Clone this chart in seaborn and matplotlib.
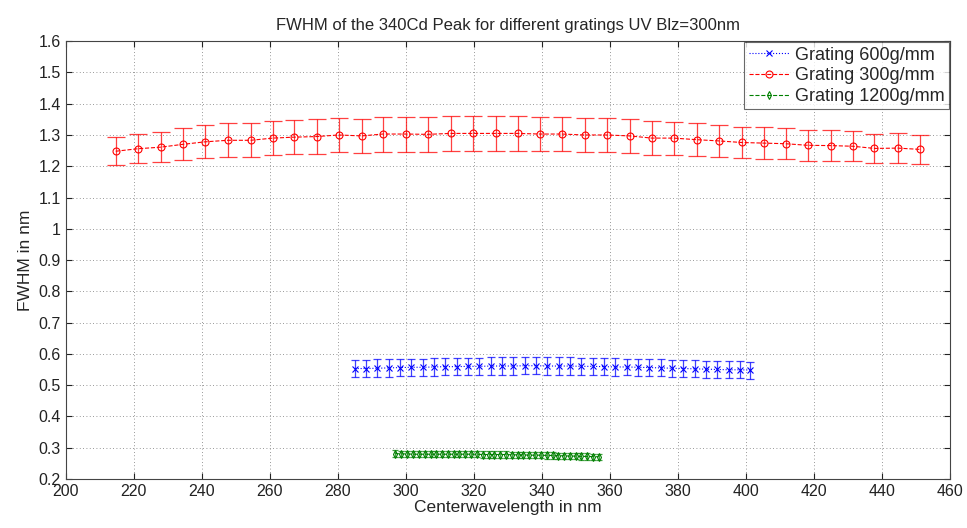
import numpy as np
import pandas as pd
import seaborn as sns
import matplotlib.pyplot as plt
from matplotlib.ticker import FormatStrFormatter, MultipleLocator

# Grating 600g/mm
x_600 = [285.0, 288.3, 291.7, 295.0, 298.3, 301.7, 305.0, 308.3, 311.7, 315.0, 318.3, 321.7,
         325.0, 328.3, 331.7, 335.0, 338.3, 341.7, 345.0, 348.3, 351.7, 355.0, 358.3, 361.7,
         365.0, 368.3, 371.7, 375.0, 378.3, 381.7, 385.0, 388.3, 391.7, 395.0, 398.3, 401.3]
y_600 = [0.553, 0.553, 0.554, 0.555, 0.556, 0.557, 0.557, 0.558, 0.559, 0.559, 0.560, 0.560,
         0.561, 0.561, 0.561, 0.562, 0.562, 0.561, 0.561, 0.561, 0.560, 0.560, 0.559, 0.558,
         0.558, 0.557, 0.556, 0.555, 0.554, 0.553, 0.552, 0.551, 0.550, 0.549, 0.549, 0.548]
e_600 = [0.028, 0.028, 0.028, 0.028, 0.028, 0.028, 0.028, 0.028, 0.028, 0.028, 0.028, 0.028,
         0.028, 0.028, 0.028, 0.028, 0.028, 0.028, 0.028, 0.028, 0.028, 0.028, 0.028, 0.028,
         0.027, 0.027, 0.027, 0.027, 0.027, 0.027, 0.027, 0.027, 0.027, 0.027, 0.027, 0.027]

# Grating 300g/mm
x_300 = [214.7, 221.2, 227.9, 234.4, 240.9, 247.6, 254.4, 260.9, 267.1, 273.8, 280.3, 287.1,
         293.2, 300.0, 306.5, 313.2, 319.7, 326.5, 332.9, 339.4, 345.9, 352.6, 359.1, 365.9,
         372.4, 378.8, 385.6, 392.1, 398.8, 405.3, 411.8, 418.2, 425.0, 431.5, 437.9, 444.7, 451.2]
y_300 = [1.248, 1.256, 1.261, 1.270, 1.278, 1.283, 1.283, 1.290, 1.293, 1.295, 1.300, 1.297,
         1.303, 1.303, 1.302, 1.305, 1.305, 1.305, 1.305, 1.303, 1.303, 1.300, 1.300, 1.297,
         1.290, 1.290, 1.285, 1.281, 1.276, 1.274, 1.272, 1.267, 1.266, 1.264, 1.257, 1.258, 1.254]
e_300 = [0.045, 0.047, 0.049, 0.051, 0.053, 0.054, 0.054, 0.055, 0.055, 0.055, 0.055, 0.055,
         0.056, 0.056, 0.056, 0.056, 0.056, 0.056, 0.056, 0.055, 0.055, 0.055, 0.055, 0.054,
         0.054, 0.053, 0.053, 0.052, 0.051, 0.051, 0.050, 0.049, 0.049, 0.048, 0.047, 0.047, 0.047]

# Grating 1200g/mm
x_1200 = [297.0, 298.7, 300.4, 302.1, 303.8, 305.6, 307.3, 309.0, 310.7, 312.4, 314.1, 315.8,
          317.5, 319.2, 320.9, 322.7, 324.4, 326.1, 327.8, 329.5, 331.2, 332.9, 334.6, 336.3,
          338.0, 339.8, 341.5, 343.2, 344.9, 346.6, 348.3, 350.0, 351.7, 353.4, 355.1, 356.8]
y_1200 = [0.281, 0.280, 0.280, 0.279, 0.279, 0.279, 0.279, 0.279, 0.279, 0.279, 0.279, 0.279,
          0.279, 0.279, 0.279, 0.278, 0.278, 0.278, 0.278, 0.278, 0.277, 0.277, 0.277, 0.276,
          0.276, 0.276, 0.275, 0.275, 0.274, 0.274, 0.273, 0.273, 0.272, 0.272, 0.271, 0.271]
e_1200 = [0.010] * 36

series = [
    ("Grating 600g/mm", x_600, y_600, e_600, "blue", ":", "x", 3.2, 4),
    ("Grating 300g/mm", x_300, y_300, e_300, "red", "--", "o", 6.5, 5),
    ("Grating 1200g/mm", x_1200, y_1200, e_1200, "green", "--", "d", 2, 4),
]

sns.set_style("white")
plt.rcParams['font.family'] = ['Liberation Sans', 'DejaVu Sans']

fig = plt.figure(figsize=(9.67, 5.28), dpi=100)
ax = fig.add_axes([0.068, 0.093, 0.914, 0.829])

for label, xs, ys, es, col, ls, mk, cap, ms in series:
    df = pd.DataFrame({"x": xs, "y": ys})
    ax.errorbar(xs, ys, yerr=es, fmt="none", ecolor=col, elinewidth=0.9,
                capsize=cap, capthick=0.9, alpha=0.75, zorder=2)
    sns.lineplot(data=df, x="x", y="y", ax=ax, color=col, linestyle=ls,
                 marker=mk, markersize=ms, markerfacecolor="none",
                 markeredgecolor=col, markeredgewidth=0.8, linewidth=0.8,
                 label=label, zorder=3)

ax.set_xlim(200, 460)
ax.set_ylim(0.2, 1.6)
ax.xaxis.set_major_locator(MultipleLocator(20))
ax.yaxis.set_major_locator(MultipleLocator(0.1))
ax.yaxis.set_major_formatter(plt.FuncFormatter(lambda v, p: f"{v:g}"))
ax.grid(True, linestyle=(0, (1, 3)), color="#777777", linewidth=0.6)
ax.tick_params(direction="in", length=4, labelsize=11.5, colors="#222222",
               top=True, right=True, bottom=True, left=True,
               labeltop=False, labelright=False)
for s in ax.spines.values():
    s.set_color("#444444")
    s.set_linewidth(0.8)

ax.set_xlabel("Centerwavelength in nm", fontsize=12.5, labelpad=1)
ax.set_ylabel("FWHM in nm", fontsize=12.5, labelpad=4)
ax.set_title("FWHM of the 340Cd Peak for different gratings UV Blz=300nm", fontsize=12, pad=8)

leg = ax.legend(loc="upper right", fontsize=13, frameon=True, fancybox=False,
                edgecolor="#444444", borderaxespad=0.05, handlelength=2.3,
                handletextpad=0.25, borderpad=0.25, labelspacing=0.2)
leg.get_frame().set_linewidth(0.8)

fig.savefig("out.png", dpi=100)
